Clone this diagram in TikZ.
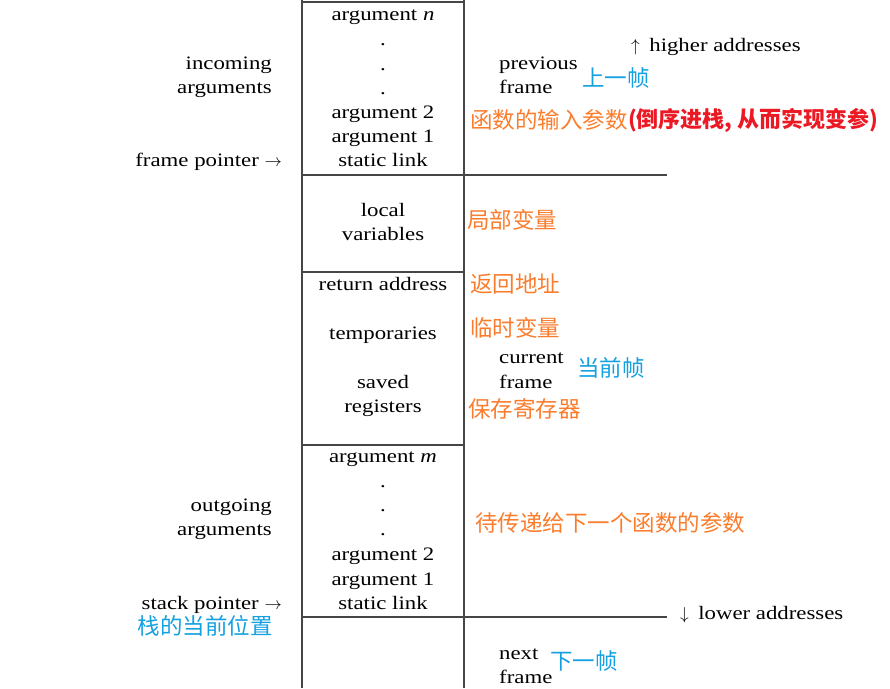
\documentclass[tikz,border=0pt]{standalone}
\usepackage{fontspec}
\setmainfont{Liberation Serif}[FakeStretch=1.2]
\newfontfamily\cjk{Noto Sans CJK SC}
\definecolor{cnorange}{RGB}{250,125,45}
\definecolor{cnblue}{RGB}{20,160,225}
\definecolor{cnred}{RGB}{235,25,35}
\definecolor{rule}{RGB}{70,70,70}
\begin{document}
\begin{tikzpicture}[x=1pt,y=-1pt,
  en/.style={font=\fontsize{19}{21}\selectfont, text=black, inner sep=0pt, anchor=base},
  lf/.style={en, anchor=base east},
  rt/.style={en, anchor=base west},
  orn/.style={font=\cjk\fontsize{22.5}{24}\selectfont, text=cnorange, inner sep=0pt, anchor=west},
  blu/.style={font=\cjk\fontsize{22.5}{24}\selectfont, text=cnblue, inner sep=0pt, anchor=west},
  redb/.style={font=\cjk\bfseries\fontsize{22}{24}\selectfont, text=cnred, inner sep=0pt, anchor=west},
  ln/.style={draw=rule, line width=1.2pt}]
\useasboundingbox (0,0) rectangle (890,688);
% frame lines
\coordinate (tl) at (302,2);
\coordinate (tr) at (464,2);
\coordinate (bl) at (302,688);
\coordinate (br) at (464,688);
\coordinate (l175) at (302,175);
\coordinate (r175) at (667,175);
\coordinate (l272) at (302,272);
\coordinate (r272) at (464,272);
\coordinate (l445) at (302,445);
\coordinate (r445) at (464,445);
\coordinate (l617) at (302,617);
\coordinate (r617) at (667,617);
\draw[ln] (302,0) -- (bl);
\draw[ln] (464,0) -- (br);
\draw[ln] (tl) -- (tr);
\draw[ln] (l175) -- (r175);
\draw[ln] (l272) -- (r272);
\draw[ln] (l445) -- (r445);
\draw[ln] (l617) -- (r617);
% box contents
\node[en] (an) at (383,20) {argument \textit{n}};
\node[en] (d1) at (383,45) {.};
\node[en] (d2) at (383,70) {.};
\node[en] (d3) at (383,94) {.};
\node[en] (a2) at (383,118) {argument 2};
\node[en] (a1) at (383,142) {argument 1};
\node[en] (sl) at (383,166) {static link};
\node[en] (lo) at (383,216) {local};
\node[en] (va) at (383,240) {variables};
\node[en] (ra) at (383,290) {return address};
\node[en] (te) at (383,339) {temporaries};
\node[en] (sa) at (383,388) {saved};
\node[en] (re) at (383,412) {registers};
\node[en] (am) at (383,462) {argument \textit{m}};
\node[en] (e1) at (383,487) {.};
\node[en] (e2) at (383,511) {.};
\node[en] (e3) at (383,535) {.};
\node[en] (b2) at (383,560) {argument 2};
\node[en] (b1) at (383,585) {argument 1};
\node[en] (bs) at (383,609) {static link};
% left labels
\node[lf] (inc) at (272,69) {incoming};
\node[lf] (inca) at (272,93) {arguments};
\node[lf] (fp) at (282,166) {frame pointer $\rightarrow$};
\node[lf] (out) at (272,511) {outgoing};
\node[lf] (outa) at (272,535) {arguments};
\node[lf] (sp) at (282,609) {stack pointer $\rightarrow$};
\node[font=\cjk\fontsize{22.5}{24}\selectfont, text=cnblue, inner sep=0pt, anchor=east] (zh1) at (273,626) {栈的当前位置};
% right labels
\node[rt] (hi) at (631,51) {$\uparrow$\hspace{0.5em}higher addresses};
\node[rt] (pv) at (499,69) {previous};
\node[rt] (pf) at (499,93) {frame};
\node[blu] (zsy) at (582,78) {上一帧};
\node[orn] (zsr) at (470,120) {函数的输入参数};
\node[redb] (zdx) at (zsr.east) {(倒序进栈, 从而实现变参)};
\node[orn] (zjb) at (467,220) {局部变量};
\node[orn] (zfh) at (470,284) {返回地址};
\node[orn] (zls) at (470,328) {临时变量};
\node[rt] (cu) at (499,363) {current};
\node[rt] (cf) at (499,388) {frame};
\node[blu] (zdq) at (577,368) {当前帧};
\node[orn] (zbc) at (468,409) {保存寄存器};
\node[orn] (zdc) at (475,523) {待传递给下一个函数的参数};
\node[rt] (lw) at (680,619) {$\downarrow$\hspace{0.5em}lower addresses};
\node[rt] (nx) at (499,659) {next};
\node[rt] (nf) at (499,683) {frame};
\node[blu] (zxy) at (550,661) {下一帧};
\end{tikzpicture}
\end{document}
